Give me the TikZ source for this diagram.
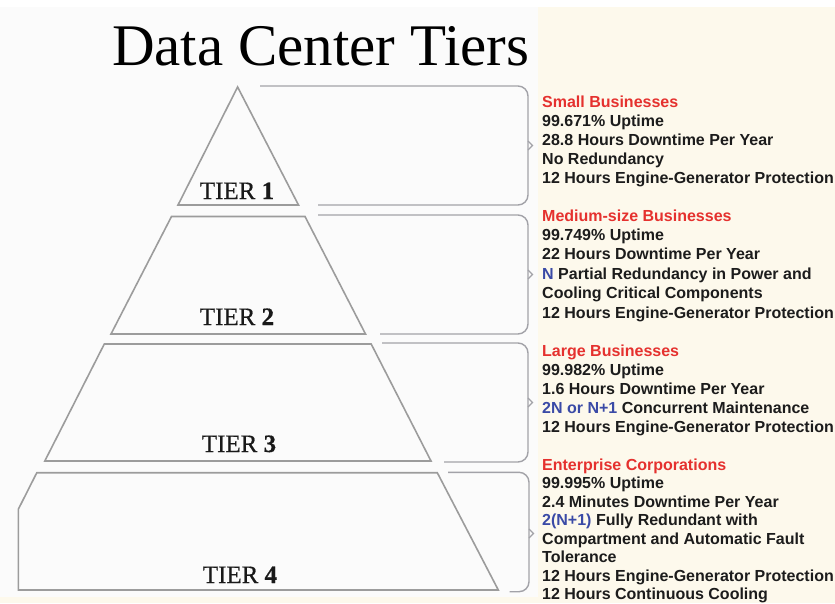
\documentclass[tikz,border=0pt]{standalone}
\usepackage{fontspec}
\setmainfont{Liberation Serif}
\newfontfamily\infofont{Liberation Sans}
\newfontfamily\tierfont[FakeBold=0.5]{Liberation Serif}
\definecolor{cream}{HTML}{FDF9EC}
\definecolor{leftbg}{HTML}{FBFBFB}
\definecolor{tierline}{HTML}{9C9C9C}
\definecolor{braceline}{HTML}{A2A2A8}
\definecolor{headred}{HTML}{E5312E}
\definecolor{keyblue}{HTML}{3A4AA6}
\definecolor{infotext}{HTML}{1C1C1C}
\begin{document}
\begin{tikzpicture}[x=1pt,y=-1pt,
  tierbox/.style={draw=tierline, line width=1.6pt, line join=miter},
  bracepath/.style={draw=braceline, line width=1.4pt, rounded corners=10pt},
  bracetick/.style={draw=braceline, line width=1.2pt},
  tierlabel/.style={anchor=base, inner sep=0pt, font=\tierfont\fontsize{25}{30}\selectfont, text=black!90},
  info/.style={anchor=base west, inner sep=0pt, font=\infofont\bfseries\fontsize{16}{19}\selectfont, text=infotext},
  head/.style={info, text=headred}]
\useasboundingbox (0,0) rectangle (835,603);
\fill[white] (0,0) rectangle (835,603);
\fill[leftbg] (0,7) rectangle (538,603);
\fill[cream] (538,7) rectangle (835,603);
\fill[cream] (0,597) rectangle (538,603);
\begin{scope}
\clip (0,0) rectangle (835,603);
% title
\node[anchor=base west, inner sep=0pt, font=\fontsize{59}{66}\selectfont] (title) at (112,65) {Data Center Tiers};
% pyramid tiers
\draw[tierbox] (237.6,87) -- (298.5,205) -- (178,205) -- cycle;
\draw[tierbox] (171.5,216.5) -- (305,216.5) -- (365.5,334) -- (111,334) -- cycle;
\draw[tierbox] (104.3,344) -- (371.2,344) -- (431,461) -- (44.8,461) -- cycle;
\draw[tierbox] (36.8,472.7) -- (437.3,472.7) -- (498.3,590) -- (18.3,590) -- (18.3,509.3) -- cycle;
\node[tierlabel] (tier1) at (237,199) {TIER \textbf{1}};
\node[tierlabel] (tier2) at (237,325) {TIER \textbf{2}};
\node[tierlabel] (tier3) at (239,452) {TIER \textbf{3}};
\node[tierlabel] (tier4) at (240,583) {TIER \textbf{4}};
% braces
\draw[bracepath] (260,86) -- (528,86) -- (528,205) -- (318,205);
\draw[bracetick] (528,141) -- (532.5,145.5) -- (528,150);
\draw[bracepath] (318,215) -- (528,215) -- (528,334) -- (380,334);
\draw[bracetick] (528,270) -- (532.5,274.5) -- (528,279);
\draw[bracepath] (382,343) -- (528,343) -- (528,462) -- (444,462);
\draw[bracetick] (528,398) -- (532.5,402.5) -- (528,407);
\draw[bracepath] (448,472.3) -- (529,472.3) -- (529,591.7) -- (509.6,591.7);
\draw[bracetick] (529,529) -- (533.5,533.5) -- (529,538);
% tier 1 info
\node[head] (a1) at (542,107) {Small Businesses};
\node[info] (a2) at (542,126) {99.671\% Uptime};
\node[info] (a3) at (542,145) {28.8 Hours Downtime Per Year};
\node[info] (a4) at (542,164) {No Redundancy};
\node[info] (a5) at (542,183) {12 Hours Engine-Generator Protection};
% tier 2 info
\node[head] (b1) at (542,221) {Medium-size Businesses};
\node[info] (b2) at (542,240.4) {99.749\% Uptime};
\node[info] (b3) at (542,259.8) {22 Hours Downtime Per Year};
\node[info] (b4) at (542,279.2) {\textcolor{keyblue}{N} Partial Redundancy in Power and};
\node[info] (b5) at (542,298.6) {Cooling Critical Components};
\node[info] (b6) at (542,318) {12 Hours Engine-Generator Protection};
% tier 3 info
\node[head] (c1) at (542,356) {Large Businesses};
\node[info] (c2) at (542,375) {99.982\% Uptime};
\node[info] (c3) at (542,394) {1.6 Hours Downtime Per Year};
\node[info] (c4) at (542,413) {\textcolor{keyblue}{2N or N+1} Concurrent Maintenance};
\node[info] (c5) at (542,432) {12 Hours Engine-Generator Protection};
% tier 4 info
\node[head] (d1) at (542,470) {Enterprise Corporations};
\node[info] (d2) at (542,488.5) {99.995\% Uptime};
\node[info] (d3) at (542,507) {2.4 Minutes Downtime Per Year};
\node[info] (d4) at (542,525.5) {\textcolor{keyblue}{2(N+1)} Fully Redundant with};
\node[info] (d5) at (542,544) {Compartment and Automatic Fault};
\node[info] (d6) at (542,562.5) {Tolerance};
\node[info] (d7) at (542,581) {12 Hours Engine-Generator Protection};
\node[info] (d8) at (542,599) {12 Hours Continuous Cooling};
\end{scope}
\end{tikzpicture}
\end{document}
